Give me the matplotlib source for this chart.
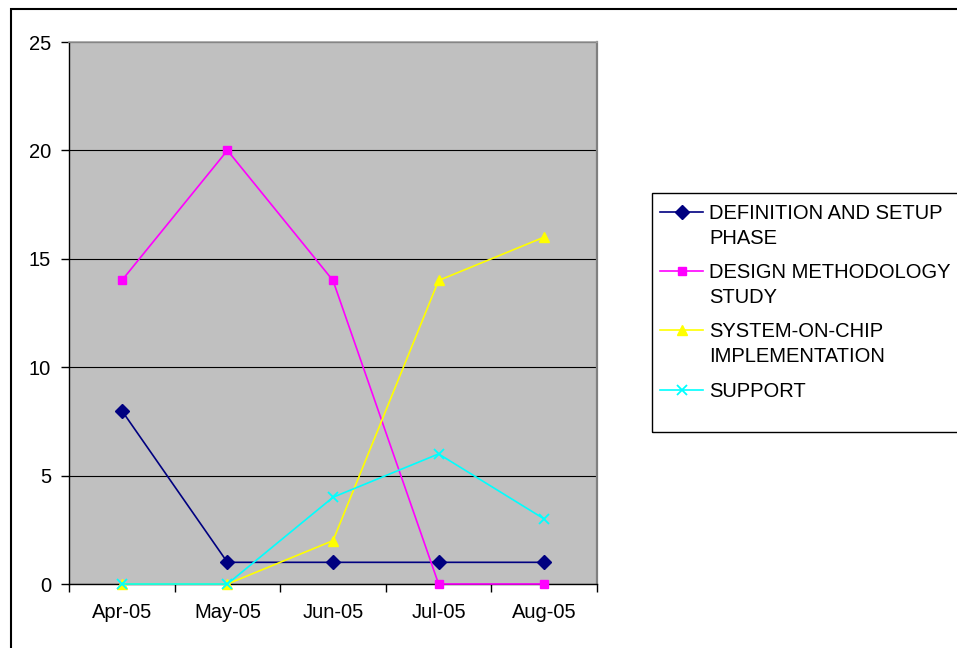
import matplotlib
matplotlib.use("Agg")
import matplotlib.pyplot as plt
from matplotlib.lines import Line2D
from matplotlib.patches import Rectangle

plt.rcParams['font.family'] = ['Liberation Sans', 'DejaVu Sans']

months = ["Apr-05", "May-05", "Jun-05", "Jul-05", "Aug-05"]
definition = [8, 1, 1, 1, 1]
design = [14, 20, 14, 0, 0]
soc = [0, 0, 2, 14, 16]
support = [0, 0, 4, 6, 3]
labels = ["DEFINITION AND SETUP\nPHASE", "DESIGN METHODOLOGY\nSTUDY",
          "SYSTEM-ON-CHIP\nIMPLEMENTATION", "SUPPORT"]
y_ticks = [0, 5, 10, 15, 20, 25]

W, H = 957, 648
fig = plt.figure(figsize=(W / 100, H / 100), dpi=100)
fig.patch.set_facecolor("white")

# outer chart border
fig.add_artist(Rectangle((11 / W, -0.1), 1.2, (H - 9) / H + 0.1, transform=fig.transFigure,
                         fill=False, edgecolor="black", linewidth=1.5))

ax = fig.add_axes([69 / W, 64 / H, 528 / W, 542 / H])
ax.set_facecolor("#C0C0C0")

x = [i + 0.5 for i in range(len(months))]
series = [
    (definition, "#000080", "D", 7, 1.0),
    (design, "#FF00FF", "s", 6, 1.0),
    (soc, "#FFFF00", "^", 7.5, 1.0),
    (support, "#00FFFF", "x", 7, 1.3),
]
lines = []
for vals, col, mk, ms, mew in series:
    ln, = ax.plot(x, vals, color=col, marker=mk, markersize=ms, linewidth=1.2,
                  markerfacecolor=col, markeredgecolor=col, markeredgewidth=mew,
                  clip_on=False, zorder=3)
    lines.append(ln)

ax.set_xlim(0, len(months))
ax.set_ylim(0, 25)
ax.set_yticks(y_ticks)
ax.set_xticks(range(len(months) + 1))
ax.set_xticklabels([])
ax.set_xticks(x, minor=True)
ax.set_xticklabels(months, minor=True)
ax.tick_params(axis="x", which="major", direction="out", length=6, width=1, color="black")
ax.tick_params(axis="x", which="minor", length=0, pad=13.5, labelsize=14.5)
ax.tick_params(axis="y", direction="out", length=6, width=1, pad=7, labelsize=14.5)
ax.grid(axis="y", color="black", linewidth=0.8, zorder=1)
ax.set_axisbelow(True)
for s in ["left", "bottom"]:
    ax.spines[s].set_color("black")
    ax.spines[s].set_linewidth(1.0)
ax.spines["top"].set_color("#A0A0A0")
ax.spines["top"].set_linewidth(1.2)
ax.spines["right"].set_color("#808080")
ax.spines["right"].set_linewidth(1.6)

# legend box
lx0, ly0, ly1 = 652, 193, 432
fig.add_artist(Rectangle((lx0 / W, (H - ly1) / H), 1.0, (ly1 - ly0) / H,
                         transform=fig.transFigure, fill=False,
                         edgecolor="black", linewidth=1.0))
row_y = [212, 271, 330, 390]
for ln, lab, yy in zip(lines, labels, row_y):
    fy = (H - yy) / H
    fig.add_artist(Line2D([660 / W, 703 / W], [fy, fy], transform=fig.transFigure,
                          color=ln.get_color(), linewidth=1.2))
    fig.add_artist(Line2D([681.5 / W], [fy], transform=fig.transFigure,
                          color=ln.get_color(), marker=ln.get_marker(),
                          markersize=ln.get_markersize(),
                          markeredgewidth=ln.get_markeredgewidth(),
                          markerfacecolor=ln.get_color(), markeredgecolor=ln.get_color()))
    fig.text(709 / W, fy + 8 / H, lab, ha="left", va="top", fontsize=14.5,
             linespacing=1.38)

fig.savefig("out.png", dpi=100)
